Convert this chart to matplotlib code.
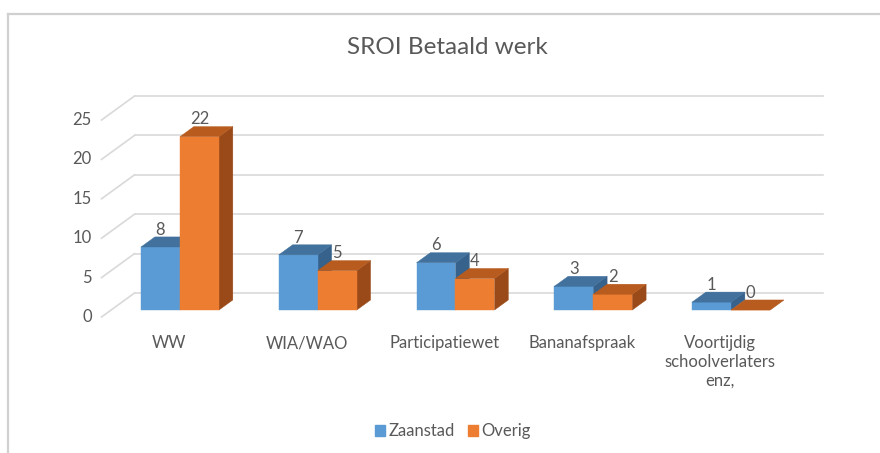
import matplotlib
matplotlib.use("Agg")
import matplotlib.pyplot as plt
from matplotlib.patches import Polygon, Patch
from matplotlib.lines import Line2D

categories = ["WW", "WIA/WAO", "Participatiewet", "Bananafspraak",
              "Voortijdig\nschoolverlaters\nenz,"]
zaanstad = [8, 7, 6, 3, 1]
overig = [22, 5, 4, 2, 0]
series_names = ["Zaanstad", "Overig"]
y_ticks = [0, 5, 10, 15, 20, 25]

text_col = "#595959"
grid_col = "#D9D9D9"
front_cols = ["#5B9BD5", "#ED7D31"]
top_cols = ["#41719C", "#B85B1E"]
side_cols = ["#36628C", "#9A4A19"]

plt.rcParams["font.family"] = ["Lato", "DejaVu Sans"]

fig = plt.figure(figsize=(8.8, 4.53), dpi=100)
ax = fig.add_axes([0, 0, 1, 1])
ax.set_xlim(-1.237, 5.151)
ax.set_ylim(-17.26, 40.23)
ax.axis("off")

# fake 3D: depth offset from front plane to back wall, in data units
DX, DY = 0.2396, 3.046
t0, t1 = 0.29, 0.71  # bar front / back depth fraction
bw = 0.283           # bar width

# back wall gridlines and side floor diagonals
x_left, x_right = -0.5, 4.5
for v in y_ticks:
    ax.plot([x_left + DX, x_right + DX], [v + DY, v + DY], color=grid_col, lw=1.2, zorder=1)
    ax.plot([x_left, x_left + DX], [v, v + DY], color=grid_col, lw=1.2, zorder=1)
    ax.text(x_left - 0.07, v, str(v), ha="right", va="center", fontsize=12, color=text_col)


def draw_box(x0, h, k):
    fx, fy = x0 + t0 * DX, t0 * DY
    bx, by = x0 + t1 * DX, t1 * DY
    front = [(fx, fy), (fx + bw, fy), (fx + bw, fy + h), (fx, fy + h)]
    top = [(fx, fy + h), (fx + bw, fy + h), (bx + bw, by + h), (bx, by + h)]
    side = [(fx + bw, fy), (bx + bw, by), (bx + bw, by + h), (fx + bw, fy + h)]
    for pts, c in ((side, side_cols[k]), (front, front_cols[k]), (top, top_cols[k])):
        ax.add_patch(Polygon(pts, closed=True, facecolor=c, edgecolor=c, lw=0.3, zorder=3))
    ax.text(fx + bw / 2, by + h - 0.1, str(h), ha="center", va="bottom",
            fontsize=12, color=text_col, zorder=4)


for i, (a, b) in enumerate(zip(zaanstad, overig)):
    draw_box(i - bw, a, 0)
    draw_box(i, b, 1)
    ax.text(i - 0.01, -2.3, categories[i], ha="center", va="top", fontsize=12,
            color=text_col, linespacing=1.22)

fig.text(0.508, 0.895, "SROI Betaald werk", ha="center", va="center",
         fontsize=17.5, color=text_col)

handles = [Patch(facecolor=c, edgecolor=c) for c in front_cols]
fig.legend(handles, series_names, loc="center", bbox_to_anchor=(0.515, 0.048),
           ncol=2, frameon=False, fontsize=12, handlelength=0.6, handleheight=0.6,
           handletextpad=0.2, columnspacing=0.8, labelcolor=text_col)

# chart frame (top and left edges visible in screenshot)
fig.add_artist(Line2D([8 / 880, 1], [1 - 14 / 453, 1 - 14 / 453],
                      transform=fig.transFigure, color="#D0D0D0", lw=1.6))
fig.add_artist(Line2D([8 / 880, 8 / 880], [0, 1 - 14 / 453],
                      transform=fig.transFigure, color="#D0D0D0", lw=1.6))

fig.savefig("out.png", dpi=100, facecolor="white")
